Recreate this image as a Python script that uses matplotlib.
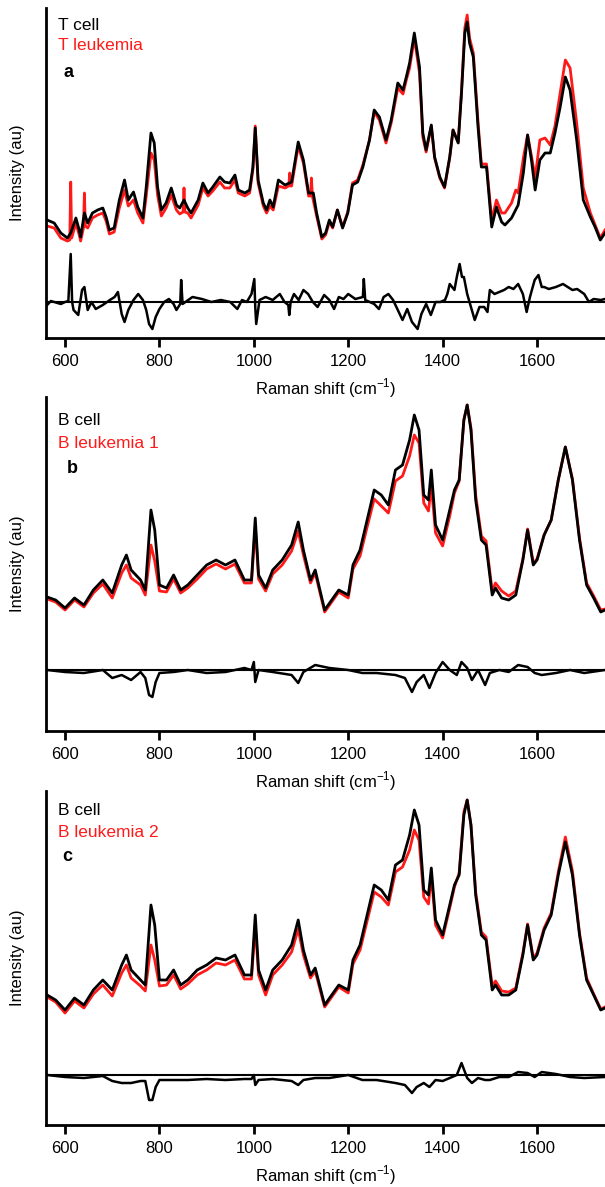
import matplotlib
matplotlib.use("Agg")
import matplotlib.pyplot as plt

plt.rcParams['font.family'] = ['Liberation Sans', 'DejaVu Sans']

# ---------------- panel a : T cell vs T leukemia ----------------
x_a_cell = [562,577,591,605,612,623,630,633,641,648,
            658,669,680,687,694,704,715,726,734,745,
            754,765,772,782,789,796,804,814,825,836,
            843,852,860,867,882,892,903,913,928,938,
            949,960,967,981,991,998,1003,1009,1020,1027,
            1034,1041,1052,1066,1080,1094,1105,1116,1126,1133,
            1144,1152,1160,1167,1177,1188,1199,1209,1220,1231,
            1245,1255,1266,1280,1291,1305,1316,1323,1330,1340,
            1351,1358,1365,1376,1383,1394,1404,1415,1422,1433,
            1440,1447,1452,1457,1465,1475,1482,1493,1504,1514,
            1525,1532,1546,1560,1571,1580,1589,1596,1606,1617,
            1628,1638,1649,1660,1670,1684,1698,1713,1723,1734,
            1744]
t_cell = [118,115,105,100,105,120,108,101,125,115,
          125,128,130,121,108,110,138,158,138,146,
          131,120,151,205,195,151,128,135,150,133,
          130,138,130,125,138,155,145,151,161,156,
          155,163,148,145,148,171,210,158,135,128,
          138,131,158,153,156,196,178,145,145,125,
          101,105,118,111,128,110,125,153,156,171,
          198,228,221,198,218,255,248,261,275,305,
          271,205,188,213,181,161,151,181,208,195,
          245,305,316,295,281,211,171,171,111,131,
          116,113,120,133,165,203,175,148,178,185,
          185,205,231,261,248,198,138,121,111,98,
          105]

x_a_leuk = [562,577,591,605,610,612,614,623,630,633,
            639,641,643,648,658,669,680,687,694,704,
            715,726,734,745,754,765,772,782,789,796,
            804,814,825,836,843,850,852,854,860,867,
            882,892,903,913,928,938,949,960,967,981,
            991,998,1003,1009,1020,1027,1034,1041,1052,1066,
            1074,1076,1078,1080,1094,1105,1116,1120,1122,1124,
            1133,1144,1152,1160,1167,1177,1188,1199,1209,1220,
            1231,1245,1255,1266,1280,1291,1305,1316,1323,1330,
            1340,1351,1358,1365,1376,1383,1394,1404,1415,1422,
            1433,1440,1447,1452,1457,1465,1475,1482,1493,1504,
            1514,1525,1532,1546,1555,1560,1571,1580,1589,1596,
            1606,1617,1628,1638,1649,1660,1670,1684,1698,1713,
            1723,1734,1744]
t_leuk = [112,110,100,97,98,156,100,115,103,97,
          110,145,112,110,120,123,125,117,104,106,
          130,148,132,138,125,115,142,185,178,143,
          122,130,143,128,124,126,150,126,125,120,
          133,150,142,147,156,150,150,158,145,142,
          145,168,212,155,132,125,132,128,152,150,
          152,165,152,152,192,175,142,142,160,142,
          122,99,103,116,110,128,111,126,155,158,
          173,198,226,218,195,215,250,244,258,270,
          300,265,201,186,212,180,160,150,180,208,
          196,248,310,323,300,285,216,174,174,118,
          138,125,125,135,148,145,180,203,180,160,
          198,200,193,212,245,278,270,215,150,125,
          113,100,108]

x_a_diff = [562,570,577,591,600,607,612,615,618,628,
            636,641,648,656,665,680,695,705,712,720,
            726,734,745,755,765,772,778,785,792,800,
            810,820,830,836,844,846,849,855,870,890,
            910,930,950,965,975,985,995,1001,1003,1005,
            1012,1025,1040,1055,1065,1073,1075,1078,1085,1095,
            1105,1115,1125,1135,1149,1160,1170,1180,1190,1200,
            1215,1231,1233,1236,1255,1265,1275,1285,1295,1305,
            1315,1325,1335,1347,1355,1365,1375,1385,1395,1405,
            1410,1415,1425,1430,1436,1441,1445,1452,1460,1468,
            1478,1488,1495,1500,1510,1520,1530,1540,1550,1560,
            1570,1578,1585,1595,1603,1610,1615,1625,1640,1655,
            1665,1675,1685,1700,1710,1720,1735,1744]
t_diff = [-3,1,0,-2,0,1,48,0,-8,-13,
          12,15,-8,0,-7,-3,2,5,10,-12,
          -20,-8,2,8,2,-8,-22,-27,-15,-7,
          0,3,-2,-8,-2,22,-2,0,5,3,
          0,2,0,-7,2,0,8,23,-5,-22,
          2,5,2,8,0,-3,-13,0,8,2,
          12,8,0,-5,7,2,-7,5,3,8,
          3,5,23,2,-2,-7,5,8,2,-8,
          -18,-7,-20,-27,-12,-2,-13,0,0,2,
          8,18,12,25,38,25,25,8,-5,-18,
          -5,-5,-10,12,8,10,12,15,13,18,
          8,-10,5,22,27,15,15,13,15,18,
          15,12,13,8,0,3,2,3]

# ---------------- panels b, c : B cell vs B leukemia 1 / 2 ----------------
x_b = [562,580,600,620,640,660,680,700,720,730,
       740,760,770,782,790,800,815,830,845,860,
       880,900,920,940,960,980,995,1003,1010,1025,
       1040,1060,1080,1094,1105,1120,1130,1150,1165,1180,
       1200,1210,1225,1240,1255,1270,1285,1300,1315,1330,
       1340,1350,1360,1370,1376,1385,1400,1415,1425,1435,
       1445,1452,1460,1470,1482,1492,1505,1512,1525,1540,
       1555,1570,1580,1592,1600,1615,1630,1645,1660,1675,
       1690,1705,1720,1735,1744]
b_cell_1 = [134,131,123,133,126,141,151,138,166,176,
            161,151,141,221,201,146,143,156,141,146,
            156,166,171,166,171,151,151,213,156,143,
            161,171,186,209,181,151,161,121,131,141,
            136,166,181,211,241,236,226,261,266,291,
            316,301,236,231,261,206,191,221,241,251,
            311,326,301,231,191,186,136,143,133,131,
            136,171,201,166,171,196,211,251,284,251,
            191,146,133,119,121]
b_leuk_1 = [132,129,121,131,124,138,147,133,158,166,
            153,146,136,186,170,140,139,152,138,143,
            152,162,167,162,167,148,148,205,152,140,
            157,166,180,200,176,148,158,119,129,139,
            133,162,175,204,232,225,218,250,255,275,
            296,288,228,220,245,198,185,215,238,250,
            311,326,303,236,195,190,140,148,140,135,
            140,172,202,168,172,196,211,251,284,252,
            193,148,135,121,122]
b_cell_2 = [130,125,115,127,120,135,145,135,160,170,
            155,145,140,220,200,145,145,155,140,145,
            155,160,167,165,170,150,150,210,155,135,
            155,165,180,205,175,150,157,120,130,140,
            135,165,180,210,240,235,225,260,265,290,
            315,300,235,230,257,205,190,220,240,250,
            310,325,300,230,190,185,135,140,130,130,
            135,170,200,165,170,195,210,250,283,250,
            190,145,130,115,117]
b_leuk_2 = [128,123,112,124,117,131,140,129,152,160,
            147,139,134,180,165,139,140,150,136,141,
            150,155,162,160,165,146,146,200,150,130,
            150,160,173,196,170,147,154,118,128,138,
            132,161,175,204,233,228,220,253,258,275,
            295,285,228,221,250,200,187,217,238,252,
            313,325,300,233,193,188,139,144,134,133,
            137,172,201,167,172,197,212,253,288,254,
            192,147,131,116,118]

x_b_diff = [562,600,640,680,700,720,740,760,770,778,
            785,792,800,830,860,900,940,980,995,1000,
            1003,1010,1040,1080,1094,1105,1130,1160,1200,1230,
            1260,1300,1320,1335,1345,1360,1372,1385,1400,1415,
            1430,1440,1452,1462,1475,1490,1500,1520,1540,1560,
            1580,1595,1610,1640,1670,1700,1744]
b_diff_1 = [0,-2,-3,0,-8,-5,-10,-2,-8,-25,
            -27,-12,-3,-2,0,-3,-2,2,0,8,
            -12,0,-2,-5,-13,-2,5,2,0,-3,
            -3,-5,-8,-22,-12,-5,-18,-3,8,0,
            -5,8,2,-10,0,-15,-3,0,-2,5,
            3,-3,-5,-3,0,-3,0]
b_diff_2 = [0,-2,-3,-1,-6,-8,-8,-6,-6,-25,
            -25,-12,-5,-5,-5,-4,-5,-4,-4,0,
            -10,-5,-4,-6,-10,-5,-3,-3,0,-5,
            -5,-8,-10,-18,-12,-8,-12,-5,-6,-3,
            0,12,-3,-8,-3,-5,-5,-2,-2,3,
            2,-2,3,1,-2,-3,-2]

panels = [
    dict(xc=x_a_cell, yc=t_cell, xl=x_a_leuk, yl=t_leuk, xd=x_a_diff, yd=t_diff,
         names=("T cell", "T leukemia"), tag="a"),
    dict(xc=x_b, yc=b_cell_1, xl=x_b, yl=b_leuk_1, xd=x_b_diff, yd=b_diff_1,
         names=("B cell", "B leukemia 1"), tag="b"),
    dict(xc=x_b, yc=b_cell_2, xl=x_b, yl=b_leuk_2, xd=x_b_diff, yd=b_diff_2,
         names=("B cell", "B leukemia 2"), tag="c"),
]

# layout in pixels (top, bottom of each axes), diff baseline level
W, H = 605, 1187
tops = [8, 397, 791]
bottoms = [338, 731, 1125]
diff_levels = [36, 61, 50]
# text baselines, pixels below axes top
name_off = [(22, 42, 69), (28, 51, 76), (24, 46, 70)]
tag_x = [596, 604, 594]

fig = plt.figure(figsize=(W / 100, H / 100), dpi=100)
left = 45.7 / W

for i, p in enumerate(panels):
    top, bot = tops[i], bottoms[i]
    h = bot - top
    ax = fig.add_axes([left, (H - bot) / H, 1 - left, h / H])
    ax.set_xlim(559, 1744)
    ax.set_ylim(0, h)

    ax.plot(p["xl"], p["yl"], color="#ff1a1a", lw=2)
    ax.plot(p["xc"], p["yc"], color="black", lw=2)
    lvl = diff_levels[i]
    ax.axhline(lvl, color="black", lw=1.5)
    ax.plot(p["xd"], [v + lvl for v in p["yd"]], color="black", lw=1.8)

    for s in ["top", "right"]:
        ax.spines[s].set_visible(False)
    for s in ["left", "bottom"]:
        ax.spines[s].set_linewidth(2)
    ax.set_yticks([])
    ax.set_xticks([600, 800, 1000, 1200, 1400, 1600])
    ax.tick_params(axis="x", direction="out", length=6.5, width=2,
                   labelsize=12, pad=5)

    n1, n2, nt = name_off[i]
    ax.text(586, h - n1, p["names"][0], fontsize=12.5, color="black",
            va="baseline")
    ax.text(586, h - n2, p["names"][1], fontsize=12.5, color="#ff1a1a",
            va="baseline")
    ax.text(tag_x[i], h - nt, p["tag"], fontsize=13, fontweight="bold",
            va="baseline")

    fig.text(18 / W, 1 - (top + bot) / 2 / H, "Intensity (au)", rotation=90,
             ha="center", va="center", fontsize=12)
    fig.text((left * W + W) / 2 / W, 1 - (bot + 56) / H,
             "Raman shift (cm$^{\\mathregular{-1}}$)", ha="center",
             va="baseline", fontsize=12)

fig.savefig("out.png", dpi=100)
